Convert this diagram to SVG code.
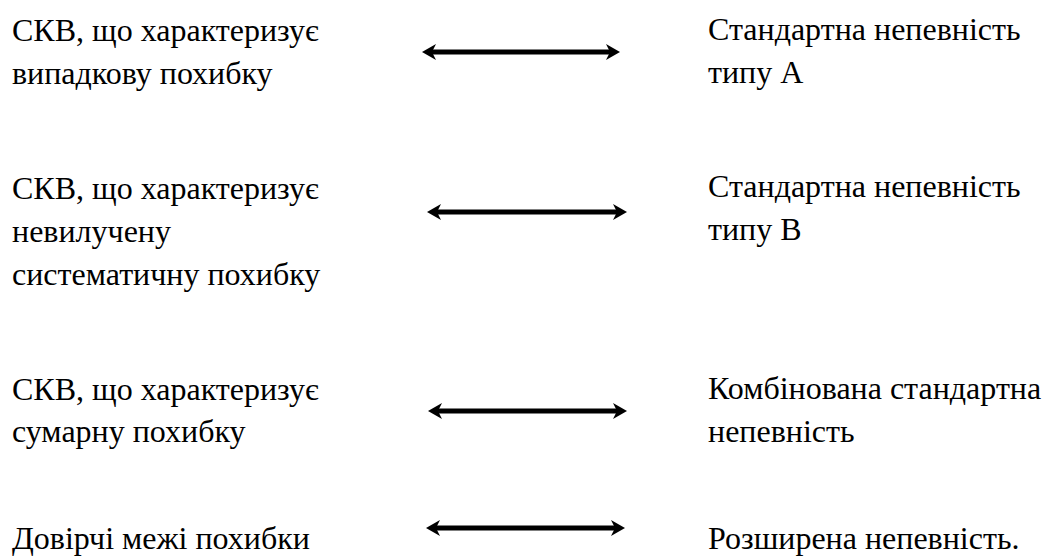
<svg xmlns="http://www.w3.org/2000/svg" width="1047" height="558" viewBox="0 0 1047 558">
<style>
.t{font-family:"Liberation Serif",serif;font-size:32px;fill:#000}
.arr{stroke:#000;stroke-width:5;fill:none}
</style>
<defs>
<marker id="ah" markerUnits="userSpaceOnUse" markerWidth="16" markerHeight="18" viewBox="0 0 16 18" refX="6" refY="9" orient="auto-start-reverse">
<path d="M2,1 L16,9 L2,17 L6,9 z" fill="#000"/>
</marker>
</defs>
<rect width="1047" height="558" fill="#fff"/>
<g class="t" font-family="Liberation Serif, serif">
<g id="l1"><text x="12" y="41">СКВ, що характеризує</text><text x="12" y="84">випадкову похибку</text></g>
<g id="r1"><text x="708" y="40">Стандартна непевність</text><text x="708" y="83">типу А</text></g>
<g id="l2"><text x="12" y="199">СКВ, що характеризує</text><text x="12" y="242">невилучену</text><text x="12" y="285">систематичну похибку</text></g>
<g id="r2"><text x="708" y="197">Стандартна непевність</text><text x="708" y="240">типу В</text></g>
<g id="l3"><text x="12" y="400">СКВ, що характеризує</text><text x="12" y="442">сумарну похибку</text></g>
<g id="r3"><text x="708" y="399">Комбінована стандартна</text><text x="708" y="442">непевність</text></g>
<g id="l4"><text x="12" y="549">Довірчі межі похибки</text></g>
<g id="r4"><text x="708" y="549">Розширена непевність.</text></g>
</g>
<g id="connectors">
<line class="arr" x1="432" y1="52" x2="610" y2="52" marker-start="url(#ah)" marker-end="url(#ah)"/>
<line class="arr" x1="437" y1="212" x2="617" y2="212" marker-start="url(#ah)" marker-end="url(#ah)"/>
<line class="arr" x1="438" y1="411" x2="617" y2="411" marker-start="url(#ah)" marker-end="url(#ah)"/>
<line class="arr" x1="436" y1="528" x2="615" y2="528" marker-start="url(#ah)" marker-end="url(#ah)"/>
</g>
</svg>
